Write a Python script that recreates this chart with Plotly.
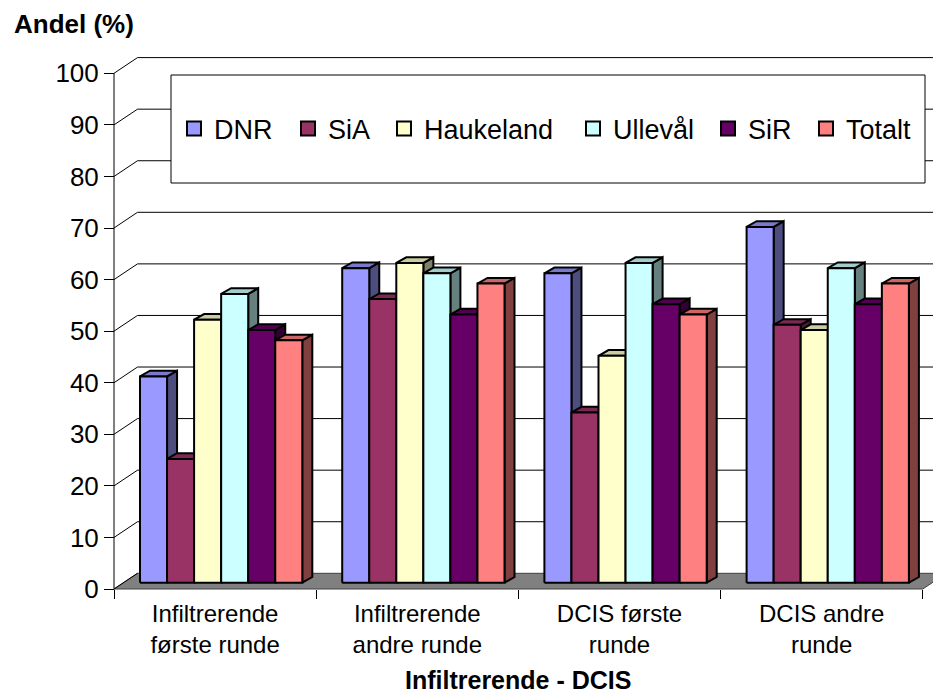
import plotly.graph_objects as go

# ---------------- data ----------------
categories = ["Infiltrerende<br>første runde", "Infiltrerende<br>andre runde",
              "DCIS første<br>runde", "DCIS andre<br>runde"]
series_names = ["DNR", "SiA", "Haukeland", "Ullevål", "SiR", "Totalt"]
DNR = [40, 61, 60, 69]
SiA = [24, 55, 33, 50]
Haukeland = [51, 62, 44, 49]
Ulleval = [56, 60, 62, 61]
SiR = [49, 52, 54, 54]
Totalt = [47, 58, 52, 58]
y_ticks = [0, 10, 20, 30, 40, 50, 60, 70, 80, 90, 100]
y_title = "Andel (%)"
x_title = "Infiltrerende - DCIS"

series_values = [DNR, SiA, Haukeland, Ulleval, SiR, Totalt]

# ---------------- style ----------------
front_colors = ["#9999FF", "#993366", "#FFFFCC", "#CCFFFF", "#660066", "#FF8080"]
top_colors = ["#7A7ACC", "#7A2952", "#CCCCA3", "#A3CCCC", "#520052", "#CC6666"]
side_colors = ["#4D4D80", "#4D1A33", "#808066", "#668080", "#330033", "#804040"]
legend_marker_left_px = [188, 302, 398, 587, 722, 820]
FONT = "Liberation Sans, Arial, sans-serif"

W, H = 933, 693
PX_X, X0 = 202.2, 114.0      # px per category, px of front axis
PX_Y, Y0 = 5.157, 589.0      # px per unit, px of value 0 on front axis
xr = [-X0 / PX_X, (W - X0) / PX_X]
yr = [(Y0 - H) / PX_Y, Y0 / PX_Y]

WALL_DX, WALL_DY = 23.5 / PX_X, 15.7 / PX_Y
BAR_W = 27.05 / PX_X
GROUP_LEFT = 0.0821
FRONT_DX, FRONT_DY = 0.40 * WALL_DX, 0.40 * WALL_DY
SIDE_DX, SIDE_DY = 10.0 / PX_X, 5.7 / PX_Y
LEGEND_OFFSET = 14

n_cat = len(categories)
ymax = y_ticks[-1]

fig = go.Figure()

# floor
fig.add_trace(go.Scatter(
    x=[0, n_cat, n_cat + WALL_DX, WALL_DX, 0],
    y=[0, 0, WALL_DY, WALL_DY, 0],
    mode="lines", fill="toself", fillcolor="#808080",
    line=dict(color="#404040", width=1), hoverinfo="skip", showlegend=False))

# walls / gridlines
gx, gy = [], []
for v in y_ticks:
    if v > 0:
        gx += [WALL_DX, n_cat + WALL_DX, None]
        gy += [v + WALL_DY, v + WALL_DY, None]
    gx += [0, WALL_DX, None]
    gy += [v, v + WALL_DY, None]
gx += [0, 0, None]
gy += [0, ymax, None]
fig.add_trace(go.Scatter(x=gx, y=gy, mode="lines",
                         line=dict(color="#000000", width=1),
                         hoverinfo="skip", showlegend=False))

# bars
for j, vals in enumerate(series_values):
    fx, fy, tx, ty, sx, sy = [], [], [], [], [], []
    for i, v in enumerate(vals):
        left = i + GROUP_LEFT + FRONT_DX + j * BAR_W
        right = left + BAR_W
        base = FRONT_DY
        top = v + FRONT_DY
        fx += [left, right, right, left, left, None]
        fy += [base, base, top, top, base, None]
        tx += [left, right, right + SIDE_DX, left + SIDE_DX, left, None]
        ty += [top, top, top + SIDE_DY, top + SIDE_DY, top, None]
        sx += [right, right + SIDE_DX, right + SIDE_DX, right, right, None]
        sy += [base, base + SIDE_DY, top + SIDE_DY, top, base, None]
    for xs, ys, col in ((sx, sy, side_colors[j]), (tx, ty, top_colors[j]),
                        (fx, fy, front_colors[j])):
        fig.add_trace(go.Scatter(x=xs, y=ys, mode="lines", fill="toself",
                                 fillcolor=col,
                                 line=dict(color="#000000", width=2),
                                 hoverinfo="skip", showlegend=False))

# legend entries (one legend per entry, to match the spacing)
legend_layouts = {}
for k, (name, col) in enumerate(zip(series_names, front_colors)):
    lname = "legend" if k == 0 else "legend%d" % (k + 1)
    fig.add_trace(go.Scatter(x=[None], y=[None], mode="markers", name=name,
                             legend=lname,
                             marker=dict(symbol="square", size=14, color=col,
                                         line=dict(color="#000000", width=2))))
    legend_layouts[lname] = dict(
        orientation="h", x=(legend_marker_left_px[k] - LEGEND_OFFSET) / W,
        xanchor="left", y=1 - 129 / H, yanchor="middle",
        bgcolor="rgba(0,0,0,0)", borderwidth=0, itemsizing="trace",
        font=dict(size=27, family=FONT, color="#000000"))

fig.update_layout(
    width=W, height=H,
    margin=dict(l=0, r=0, t=0, b=0),
    paper_bgcolor="white", plot_bgcolor="white",
    font=dict(family=FONT, color="#000000"),
    showlegend=True,
    xaxis=dict(range=xr, showgrid=False, zeroline=False, showline=False,
               tickmode="array", tickvals=[i + 0.5 for i in range(n_cat)],
               ticktext=categories, ticks="",
               tickfont=dict(size=24, family=FONT, color="#000000"),
               anchor="free", position=1 - Y0 / H, ticklabelstandoff=8,
               minor=dict(tickmode="array", tickvals=list(range(n_cat + 1)),
                          ticks="outside", ticklen=9, tickwidth=1,
                          tickcolor="#000000", showgrid=False)),
    yaxis=dict(range=yr, showgrid=False, zeroline=False, showline=False,
               tickmode="array", tickvals=y_ticks, ticks="outside",
               ticklen=10, tickwidth=1, tickcolor="#000000",
               tickfont=dict(size=26, family=FONT, color="#000000"),
               anchor="free", position=X0 / W),
    shapes=[dict(type="rect", xref="paper", yref="paper",
                 x0=171 / W, x1=925 / W, y0=1 - 183 / H, y1=1 - 75 / H,
                 line=dict(color="#000000", width=1), fillcolor="white",
                 layer="above")],
    annotations=[
        dict(text="<b>" + y_title + "</b>", xref="paper", yref="paper",
             x=12 / W, y=1 - 24 / H, xanchor="left", yanchor="middle",
             showarrow=False, font=dict(size=26, family=FONT, color="#000000")),
        dict(text="<b>" + x_title + "</b>", xref="paper", yref="paper",
             x=518 / W, y=1 - 680 / H, xanchor="center", yanchor="middle",
             showarrow=False, font=dict(size=25, family=FONT, color="#000000")),
    ],
)
fig.update_layout(**legend_layouts)

fig.write_html("out.html",
               config={"displayModeBar": False},
               post_script="document.body.style.margin='0px';"
                           "document.body.style.overflow='hidden';")
